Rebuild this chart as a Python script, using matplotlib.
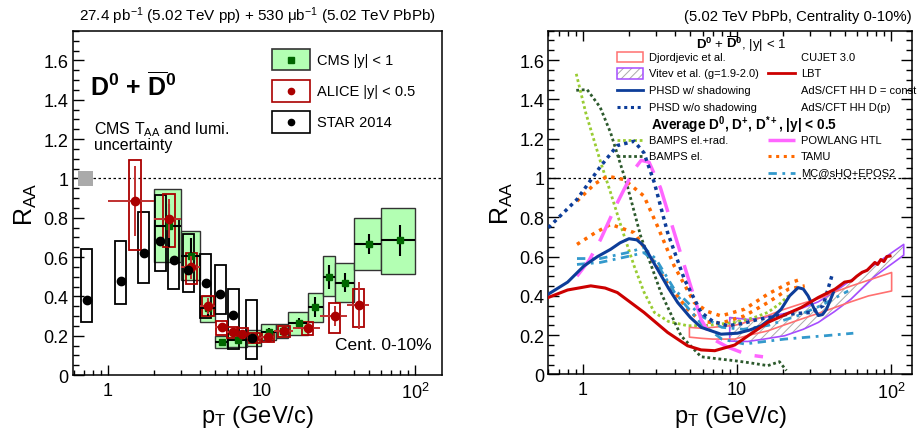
import numpy as np
import matplotlib
matplotlib.use('Agg')
import matplotlib.pyplot as plt
from matplotlib.patches import Rectangle
from matplotlib.ticker import FixedLocator, MultipleLocator, NullFormatter

plt.rcParams['font.family'] = ['Liberation Sans', 'DejaVu Sans']
plt.rcParams['mathtext.fontset'] = 'custom'
plt.rcParams['mathtext.rm'] = 'Liberation Sans'
plt.rcParams['mathtext.it'] = 'Liberation Sans:italic'
plt.rcParams['mathtext.bf'] = 'Liberation Sans:bold'
plt.rcParams['hatch.color'] = '#aaaaaa'
plt.rcParams['hatch.linewidth'] = 0.7

# ---- measurements (left panel) ----
starPt = [0.73, 1.21, 1.71, 2.19, 2.69, 3.34, 4.35, 5.39, 6.55, 8.62]
starRaa = [0.38, 0.48, 0.62, 0.68, 0.585, 0.535, 0.47, 0.41, 0.305, 0.19]
starSysLo = [0.27, 0.36, 0.47, 0.53, 0.44, 0.42, 0.29, 0.31, 0.13, 0.08]
starSysHi = [0.64, 0.68, 0.83, 0.915, 0.795, 0.715, 0.615, 0.56, 0.435, 0.38]

cmsBinLo = [2, 3, 4, 5, 6, 8, 10, 12.5, 15, 20, 25, 30, 40, 60]
cmsBinHi = [3, 4, 5, 6, 8, 10, 12.5, 15, 20, 25, 30, 40, 60, 100]
cmsRaa = [0.76, 0.605, 0.34, 0.17, 0.18, 0.19, 0.22, 0.225, 0.264, 0.345, 0.50, 0.47, 0.665, 0.685]
cmsStat = [0.11, 0.09, 0.04, 0.015, 0.015, 0.02, 0.02, 0.02, 0.025, 0.05, 0.06, 0.05, 0.05, 0.08]
cmsSysLo = [0.575, 0.484, 0.27, 0.136, 0.14, 0.15, 0.18, 0.19, 0.205, 0.272, 0.40, 0.369, 0.535, 0.513]
cmsSysHi = [0.944, 0.733, 0.40, 0.196, 0.22, 0.23, 0.26, 0.26, 0.32, 0.415, 0.605, 0.568, 0.797, 0.851]

aliceBinLo = [1, 2, 3, 4, 5, 6, 7, 8, 10, 12, 16, 24, 36]
aliceBinHi = [2, 3, 4, 5, 6, 7, 8, 10, 12, 16, 24, 36, 50]
aliceRaa = [0.885, 0.795, 0.547, 0.352, 0.242, 0.217, 0.208, 0.19, 0.194, 0.222, 0.239, 0.301, 0.355]
aliceStat = [0.18, 0.1, 0.06, 0.04, 0.02, 0.02, 0.02, 0.02, 0.02, 0.02, 0.03, 0.05, 0.12]
aliceSysLo = [0.635, 0.653, 0.462, 0.30, 0.203, 0.19, 0.18, 0.165, 0.17, 0.195, 0.205, 0.213, 0.242]
aliceSysHi = [1.096, 0.922, 0.621, 0.40, 0.274, 0.245, 0.24, 0.215, 0.22, 0.25, 0.272, 0.365, 0.44]

# ---- model curves (right panel) ----
bampsRadPt = [0.91, 1.05, 1.31, 1.52, 1.8, 2.16, 2.5, 2.92, 3.6, 4.8, 6.5, 9.7, 13, 15.9, 19, 21.6]
bampsRadRaa = [1.53, 1.33, 1.08, 0.925, 0.74, 0.552, 0.42, 0.316, 0.27, 0.248, 0.25, 0.265, 0.29, 0.316, 0.36, 0.40]
bampsElPt = [0.91, 1.07, 1.3, 1.52, 1.95, 2.38, 3.22, 4.35, 5.87, 7.5, 9.7, 12, 15.9, 18.9, 21]
bampsElRaa = [1.446, 1.45, 1.36, 1.23, 0.96, 0.705, 0.417, 0.197, 0.09, 0.08, 0.07, 0.06, 0.045, 0.065, 0.02]
phsdPt = [0.6, 0.8, 1.02, 1.25, 1.52, 1.75, 2.0, 2.25, 2.5, 3.06, 3.6, 4.14, 5, 5.87, 7.9, 10.1, 12, 14.4,
          17, 19.4, 22, 25, 27, 29, 31.5, 33.8, 36, 38.2, 42.3]
phsdRaa = [0.409, 0.47, 0.552, 0.6, 0.637, 0.67, 0.691, 0.685, 0.654, 0.536, 0.44, 0.366, 0.29, 0.24, 0.205,
           0.21, 0.225, 0.248, 0.29, 0.332, 0.4, 0.442, 0.435, 0.40, 0.34, 0.30, 0.305, 0.332, 0.417]
phsdNoShPt = [0.6, 0.92, 1.31, 1.68, 2.16, 2.5, 2.92, 3.56, 4.57, 5.87, 7, 8.75, 11, 13.7, 21.6, 30.6, 36.3, 41.3]
phsdNoShRaa = [0.747, 0.891, 1.06, 1.165, 1.187, 1.128, 0.976, 0.722, 0.485, 0.316, 0.27, 0.248, 0.26, 0.28,
               0.307, 0.316, 0.35, 0.50]
tamuUpPt = [0.92, 1.2, 1.45, 1.86, 2.5, 3.06, 3.93, 5.3, 6.5, 7.9, 11.2, 15.9, 21.6, 25]
tamuUpRaa = [0.882, 0.97, 1.009, 0.992, 0.908, 0.755, 0.552, 0.366, 0.32, 0.298, 0.332, 0.409, 0.464, 0.48]
tamuLoPt = [0.92, 1.2, 1.52, 2.16, 2.64, 3.39, 4.8, 5.87, 7.9, 11.2, 15.9, 21.6, 27.6]
tamuLoRaa = [0.662, 0.72, 0.764, 0.722, 0.62, 0.485, 0.332, 0.27, 0.261, 0.298, 0.366, 0.434, 0.451]
mcshqUpPt = [0.92, 1.3, 1.95, 2.5, 3.0, 3.93, 5.87, 8, 11, 16, 25, 35, 52.8]
mcshqUpRaa = [0.59, 0.59, 0.62, 0.646, 0.586, 0.434, 0.298, 0.24, 0.23, 0.25, 0.3, 0.35, 0.425]
mcshqLoPt = [0.92, 1.3, 1.95, 2.5, 3.0, 3.93, 5.87, 8, 11.2, 20.4, 37.2, 57]
mcshqLoRaa = [0.56, 0.57, 0.6, 0.62, 0.57, 0.42, 0.26, 0.18, 0.155, 0.18, 0.197, 0.21]
powlangPt = [0.92, 1.1, 1.31, 1.68, 2.16, 2.4, 2.7, 3.2, 3.93, 4.8, 5.87, 7, 8.7, 11.8, 14.8]
powlangRaa = [0.50, 0.58, 0.688, 0.874, 1.043, 1.09, 1.08, 0.95, 0.722, 0.50, 0.28, 0.18, 0.14, 0.10, 0.09]
lbtPt = [0.6, 0.8, 1.13, 1.4, 1.68, 2.5, 3.56, 4.8, 5.87, 7.2, 9.7, 12, 15.9, 20, 26.2, 33.8, 43.3, 50,
         55.5, 60, 65, 70, 78.6, 82, 86, 90, 94, 98.6]
lbtRaa = [0.392, 0.43, 0.451, 0.44, 0.417, 0.316, 0.214, 0.146, 0.125, 0.121, 0.15, 0.2, 0.265, 0.30, 0.341,
          0.392, 0.434, 0.47, 0.476, 0.50, 0.52, 0.53, 0.57, 0.56, 0.585, 0.575, 0.60, 0.603]
djordPt = [4.93, 5.9, 7, 9.7, 12, 15.9, 20, 26.2, 35, 43.3, 55, 71.6, 101]
djordLo = [0.19, 0.184, 0.18, 0.18, 0.2, 0.222, 0.25, 0.282, 0.315, 0.341, 0.37, 0.40, 0.425]
djordHi = [0.24, 0.235, 0.24, 0.25, 0.27, 0.30, 0.33, 0.36, 0.39, 0.42, 0.45, 0.48, 0.519]
vitevPt = [9, 11.8, 15, 20.4, 27, 33.8, 43, 55, 78.6, 121]
vitevLo = [0.17, 0.168, 0.18, 0.197, 0.23, 0.265, 0.32, 0.383, 0.50, 0.607]
vitevHi = [0.29, 0.28, 0.29, 0.31, 0.34, 0.37, 0.42, 0.48, 0.56, 0.662]

cmsGreen = '#006600'
cmsFill = '#b3ffb3'
aliceRed = '#aa0000'


def drawBox(ax, x0, x1, y0, y1, **kw):
  ax.add_patch(Rectangle((x0, y0), x1 - x0, y1 - y0, **kw))


def styleAxes(ax, xmin, xmax, mirror):
  ax.set_xscale('log')
  ax.set_xlim(xmin, xmax)
  ax.set_ylim(0, 1.75)
  ax.xaxis.set_major_locator(FixedLocator([1, 10, 100]))
  ax.xaxis.set_minor_locator(FixedLocator([m * 10.0 ** e for e in range(-1, 3) for m in range(2, 10)]))
  ax.xaxis.set_minor_formatter(NullFormatter())
  ax.set_xticklabels(['1', '10', '10$^{2}$'])
  ax.yaxis.set_major_locator(FixedLocator([0, 0.2, 0.4, 0.6, 0.8, 1.0, 1.2, 1.4, 1.6]))
  ax.set_yticklabels(['0', '0.2', '0.4', '0.6', '0.8', '1', '1.2', '1.4', '1.6'])
  ax.yaxis.set_minor_locator(MultipleLocator(0.05))
  ax.tick_params(which='both', direction='in', top=mirror, right=mirror, labelsize=13, width=1.0)
  ax.tick_params(axis='x', which='major', length=7, pad=5)
  ax.tick_params(axis='x', which='minor', length=3.5)
  ax.tick_params(axis='y', which='major', length=8, pad=3)
  ax.tick_params(axis='y', which='minor', length=4)
  for s in ax.spines.values():
    s.set_linewidth(1.1)
  ax.axhline(1.0, color='black', lw=0.9, ls=(0, (2, 2)), zorder=1)
  ax.set_xlabel('p$_{\\mathrm{T}}$ (GeV/c)', fontsize=17, labelpad=1)
  ax.set_ylabel('R$_{\\mathrm{AA}}$', fontsize=18, labelpad=3)


def drawData(ax):
  # CMS systematic boxes
  for lo, hi, slo, shi in zip(cmsBinLo, cmsBinHi, cmsSysLo, cmsSysHi):
    drawBox(ax, lo, hi, slo, shi, facecolor=cmsFill, edgecolor='#333333', lw=1.0, zorder=2)
  # STAR systematic boxes
  for pt, slo, shi in zip(starPt, starSysLo, starSysHi):
    drawBox(ax, pt / 1.087, pt * 1.087, slo, shi, facecolor='none', edgecolor='black', lw=1.3, zorder=3)
  # ALICE systematic boxes
  aliceMid = [(lo + hi) / 2.0 for lo, hi in zip(aliceBinLo, aliceBinHi)]
  for pt, slo, shi in zip(aliceMid, aliceSysLo, aliceSysHi):
    drawBox(ax, pt / 1.09, pt * 1.09, slo, shi, facecolor='none', edgecolor=aliceRed, lw=1.3, zorder=4)

  cmsMid = [(lo + hi) / 2.0 for lo, hi in zip(cmsBinLo, cmsBinHi)]
  ax.errorbar(cmsMid, cmsRaa, yerr=cmsStat,
              xerr=[np.subtract(cmsMid, cmsBinLo), np.subtract(cmsBinHi, cmsMid)],
              fmt='s', color=cmsGreen, ecolor='black', elinewidth=1.5, ms=5, capsize=0, zorder=5)
  ax.errorbar(aliceMid, aliceRaa, yerr=aliceStat,
              xerr=[np.subtract(aliceMid, aliceBinLo), np.subtract(aliceBinHi, aliceMid)],
              fmt='o', color=aliceRed, ecolor='#c03030', elinewidth=1.4, ms=6, capsize=0, zorder=6)
  ax.plot(starPt, starRaa, 'o', color='black', ms=6, zorder=7)

  # normalisation uncertainty at unity
  drawBox(ax, 0.64, 0.80, 0.96, 1.04, facecolor='#aaaaaa', edgecolor='none', zorder=3)

  tr = ax.transAxes
  ax.text(0.047, 0.814, r'$\mathbf{D^{0}}$ + $\mathbf{\overline{D}^{0}}$', transform=tr, fontsize=18,
          fontweight='bold', va='baseline')
  ax.text(0.058, 0.744, 'CMS T$_{\\mathrm{AA}}$ and lumi.\nuncertainty', transform=tr, fontsize=11.5,
          va='top', linespacing=0.95)
  ax.text(0.972, 0.088, 'Cent. 0-10%', transform=tr, fontsize=12.5, ha='right', va='center')

  # legend
  legend = [('CMS |y| < 1', cmsFill, '#333333', 's', cmsGreen, 0.886, 0.948),
            ('ALICE |y| < 0.5', 'white', aliceRed, 'o', aliceRed, 0.794, 0.858),
            ('STAR 2014', 'white', 'black', 'o', 'black', 0.703, 0.768)]
  for label, fc, ec, mk, mc, y0, y1 in legend:
    ax.add_patch(Rectangle((0.540, y0), 0.103, y1 - y0, transform=tr, facecolor=fc, edgecolor=ec, lw=1.2,
                           zorder=8))
    ax.plot([0.5915], [(y0 + y1) / 2], mk, color=mc, ms=4.5, transform=tr, zorder=9)
    ax.text(0.662, (y0 + y1) / 2, label, transform=tr, fontsize=10.5, va='center')


def drawModels(ax):
  ax.fill_between(vitevPt, vitevLo, vitevHi, facecolor='none', edgecolor='#aaaaaa', hatch='////',
                  lw=0, zorder=2)
  ax.fill_between(vitevPt, vitevLo, vitevHi, facecolor='none', edgecolor='#a64dff', lw=1.2, zorder=3)
  ax.fill_between(djordPt, djordLo, djordHi, facecolor='none', edgecolor='#ff7070', lw=1.2, zorder=3)

  ax.plot(bampsRadPt, bampsRadRaa, color='#99cc33', lw=2, ls=(0, (1, 1)), zorder=4)
  ax.plot(bampsElPt, bampsElRaa, color='#2d5a2d', lw=2, ls=(0, (1, 1)), zorder=4)
  ax.plot(tamuUpPt, tamuUpRaa, color='#ff6a00', lw=2.5, ls=(0, (1, 1.5)), zorder=4)
  ax.plot(tamuLoPt, tamuLoRaa, color='#ff6a00', lw=2.5, ls=(0, (1, 1.5)), zorder=4)
  ax.plot(mcshqUpPt, mcshqUpRaa, color='#3399cc', lw=2, ls=(0, (3, 2, 1, 2)), zorder=4)
  ax.plot(mcshqLoPt, mcshqLoRaa, color='#3399cc', lw=2, ls=(0, (3, 2, 1, 2)), zorder=4)
  ax.plot(powlangPt, powlangRaa, color='#ff66ff', lw=2.5, ls=(0, (8, 4)), zorder=4)
  ax.plot(phsdNoShPt, phsdNoShRaa, color='#0d3d99', lw=2.5, ls=(0, (1, 1.2)), zorder=5)
  ax.plot(phsdPt, phsdRaa, color='#0d3d99', lw=2.2, zorder=5)
  ax.plot(lbtPt, lbtRaa, color='#cc0000', lw=2.2, zorder=6)

  tr = ax.transAxes
  ax.text(0.53, 0.963, r'$\mathbf{D^{0}}$ + $\mathbf{\overline{D}^{0}}$, |y| < 1', transform=tr, fontsize=9.5,
          ha='center', va='center')
  ax.add_patch(Rectangle((0.188, 0.908), 0.073, 0.031, transform=tr, facecolor='white', edgecolor='#ff7070',
                         lw=1.1, zorder=8))
  ax.add_patch(Rectangle((0.188, 0.859), 0.073, 0.032, transform=tr, facecolor='white', edgecolor='#aaaaaa',
                         hatch='////', lw=0, zorder=8))
  ax.add_patch(Rectangle((0.188, 0.859), 0.073, 0.032, transform=tr, facecolor='none', edgecolor='#a64dff',
                         lw=1.1, zorder=8))
  leftEntries = [('Djordjevic et al.', 0.924), ('Vitev et al. (g=1.9-2.0)', 0.876),
                 ('PHSD w/ shadowing', 0.8275), ('PHSD w/o shadowing', 0.777),
                 ('BAMPS el.+rad.', 0.683), ('BAMPS el.', 0.635)]
  for label, y in leftEntries:
    ax.text(0.278, y, label, transform=tr, fontsize=8, va='center', zorder=9)
  ax.plot([0.188, 0.261], [0.8275] * 2, color='#0d3d99', lw=2, transform=tr)
  ax.plot([0.188, 0.261], [0.777] * 2, color='#0d3d99', lw=2.2, ls=(0, (1, 1.2)), transform=tr)
  ax.plot([0.188, 0.261], [0.683] * 2, color='#99cc33', lw=2, ls=(0, (1, 1)), transform=tr)
  ax.plot([0.188, 0.261], [0.635] * 2, color='#2d5a2d', lw=2, ls=(0, (1, 1)), transform=tr)

  rightEntries = [('CUJET 3.0', 0.924), ('LBT', 0.876), ('AdS/CFT HH D = const', 0.8275),
                  ('AdS/CFT HH D(p)', 0.777), ('POWLANG HTL', 0.683), ('TAMU', 0.635), ('MC@sHQ+EPOS2', 0.585)]
  for label, y in rightEntries:
    ax.text(0.694, y, label, transform=tr, fontsize=8, va='center', zorder=9, clip_on=False)
  ax.plot([0.604, 0.678], [0.876] * 2, color='#cc0000', lw=2, transform=tr)
  ax.plot([0.604, 0.678], [0.683] * 2, color='#ff66ff', lw=2.5, ls=(0, (8, 4)), transform=tr)
  ax.plot([0.604, 0.678], [0.635] * 2, color='#ff6a00', lw=2.2, ls=(0, (1, 1.5)), transform=tr)
  ax.plot([0.604, 0.678], [0.585] * 2, color='#3399cc', lw=2, ls=(0, (3, 2, 1, 2)), transform=tr)

  ax.text(0.281, 0.727, r'Average D$^{\mathbf{0}}$, D$^{\mathbf{+}}$, D$^{\mathbf{*+}}$, |y| < 0.5',
          transform=tr, fontsize=9.8, fontweight='bold', va='center')


fig = plt.figure(figsize=(9.17, 4.39), dpi=100)
axL = fig.add_axes([0.0793, 0.1435, 0.4027, 0.7836])
axR = fig.add_axes([0.598, 0.1447, 0.3966, 0.7833])

styleAxes(axL, 0.59, 150, False)
styleAxes(axR, 0.60, 137, True)
drawData(axL)
drawModels(axR)

fig.text(0.281, 0.962, '27.4 pb$^{-1}$ (5.02 TeV pp) + 530 \u03bcb$^{-1}$ (5.02 TeV PbPb)', fontsize=11,
         ha='center', va='center')
fig.text(0.9945, 0.962, '(5.02 TeV PbPb, Centrality 0-10%)', fontsize=10.7, ha='right', va='center')

fig.savefig('out.png', dpi=100)
